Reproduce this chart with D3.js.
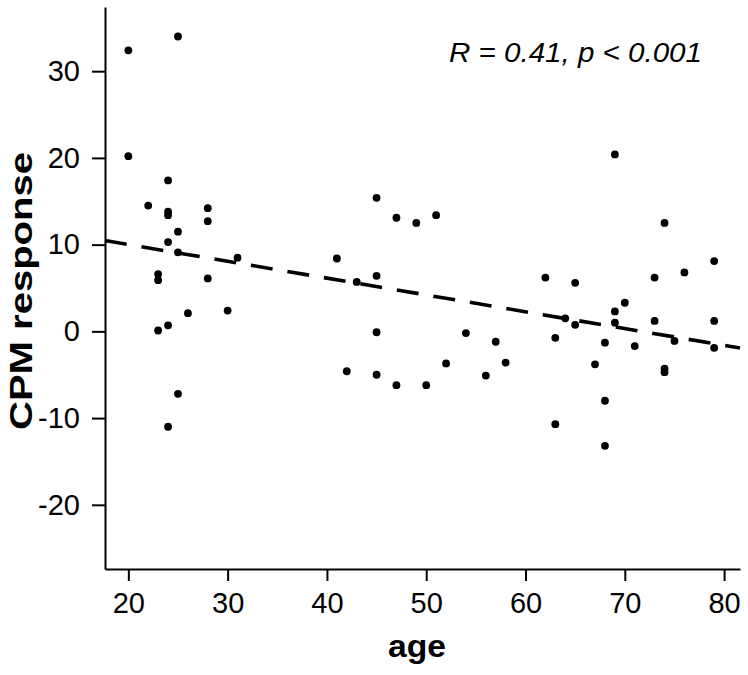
<!DOCTYPE html>
<html>
<head>
<meta charset="utf-8">
<script src="https://cdn.jsdelivr.net/npm/d3@7"></script>
<style>
  body { margin: 0; background: #fff; }
  svg { display: block; font-family: "Liberation Sans", Arial, sans-serif; }
</style>
</head>
<body>
<script>
// age of each subject and its CPM response
const age = [
    20, 20, 22, 23, 23, 23, 24, 24, 24, 24, 24, 24, 25, 25, 25, 25, 26, 28, 28, 28, 30, 31,
    41, 42, 43, 45, 45, 45, 45, 47, 47, 49, 50, 51, 52, 54, 56, 57, 58,
    62, 63, 63, 64, 65, 65, 67, 68, 68, 68, 69, 69, 69, 70, 71, 73, 73, 74, 74, 74, 75, 76, 79, 79, 79
];
const cpm = [
    32.4, 20.2, 14.5, 6.6, 5.9, 0.1, 17.4, 13.8, 13.4, 10.3, 0.7, -11.0, 34.0, 11.5, 9.1, -7.2, 2.1, 14.2, 12.7, 6.1, 2.4, 8.5,
    8.4, -4.6, 5.7, 15.4, 6.4, -0.1, -5.0, 13.1, -6.2, 12.5, -6.2, 13.4, -3.7, -0.2, -5.1, -1.2, -3.6,
    6.2, -0.75, -10.7, 1.5, 5.6, 0.75, -3.8, -1.3, -8.0, -13.2, 20.4, 2.3, 1.0, 3.3, -1.7, 6.2, 1.2, 12.5, -4.3, -4.7, -1.1, 6.8, 8.1, 1.2, -1.9
];
const xTicks = [20, 30, 40, 50, 60, 70, 80];
const yTicks = [-20, -10, 0, 10, 20, 30];
const statLabel = "R = 0.41, p < 0.001";

const width = 748, height = 675;
const plotLeft = 105, plotRight = 740, plotTop = 7, plotBottom = 569;

const svg = d3.select("body").append("svg")
    .attr("width", width)
    .attr("height", height);

const x = d3.scaleLinear().domain([17.65, 81.6]).range([plotLeft, plotRight]);
const y = d3.scaleLinear().domain([-27.4, 37.4]).range([plotBottom, plotTop]);

// least squares fit
const mx = d3.mean(age), my = d3.mean(cpm);
let sxy = 0, sxx = 0;
age.forEach((a, i) => { sxy += (a - mx) * (cpm[i] - my); sxx += (a - mx) * (a - mx); });
const slope = sxy / sxx;
const icpt = my - slope * mx;
const fitPts = x.domain().map(a => ({ x: a, y: icpt + slope * a }));

svg.append("path")
    .datum(fitPts)
    .attr("d", d3.line().x(d => x(d.x)).y(d => y(d.y)))
    .style("fill", "none")
    .style("stroke", "#000")
    .style("stroke-width", 3.6)
    .style("stroke-dasharray", "22,15");

svg.selectAll(".dot")
    .data(age.map((a, i) => ({ a: a, v: cpm[i] })))
    .enter().append("circle")
    .attr("class", "dot")
    .attr("cx", d => x(d.a))
    .attr("cy", d => y(d.v))
    .attr("r", 3.9)
    .style("fill", "#000");

// axes
const xAxis = svg.append("g")
    .attr("transform", "translate(0," + plotBottom + ")")
    .call(d3.axisBottom(x).tickValues(xTicks).tickFormat(d => String(d))
        .tickSize(12).tickSizeOuter(0).tickPadding(11));
const yAxis = svg.append("g")
    .attr("transform", "translate(" + plotLeft + ",0)")
    .call(d3.axisLeft(y).tickValues(yTicks).tickFormat(d => String(d))
        .tickSize(13).tickSizeOuter(0).tickPadding(12));

[xAxis, yAxis].forEach(g => {
    g.select(".domain").style("stroke", "#000").style("stroke-width", 2);
    g.selectAll(".tick line").style("stroke", "#000").style("stroke-width", 2);
    g.selectAll(".tick text")
        .style("font-family", "'Liberation Sans', Arial, sans-serif")
        .style("font-size", "29px")
        .style("fill", "#000");
});

// titles
svg.append("text")
    .attr("x", 417)
    .attr("y", 657)
    .attr("text-anchor", "middle")
    .attr("textLength", 58)
    .attr("lengthAdjust", "spacingAndGlyphs")
    .style("font-size", "31px")
    .style("font-weight", "bold")
    .text("age");

svg.append("text")
    .attr("transform", "translate(32,291) rotate(-90)")
    .attr("text-anchor", "middle")
    .attr("textLength", 278)
    .attr("lengthAdjust", "spacingAndGlyphs")
    .style("font-size", "32px")
    .style("font-weight", "bold")
    .text("CPM response");

svg.append("text")
    .attr("x", 702)
    .attr("y", 62)
    .attr("text-anchor", "end")
    .attr("textLength", 253)
    .attr("lengthAdjust", "spacingAndGlyphs")
    .style("font-size", "27px")
    .style("font-style", "italic")
    .text(statLabel);
</script>
</body>
</html>
